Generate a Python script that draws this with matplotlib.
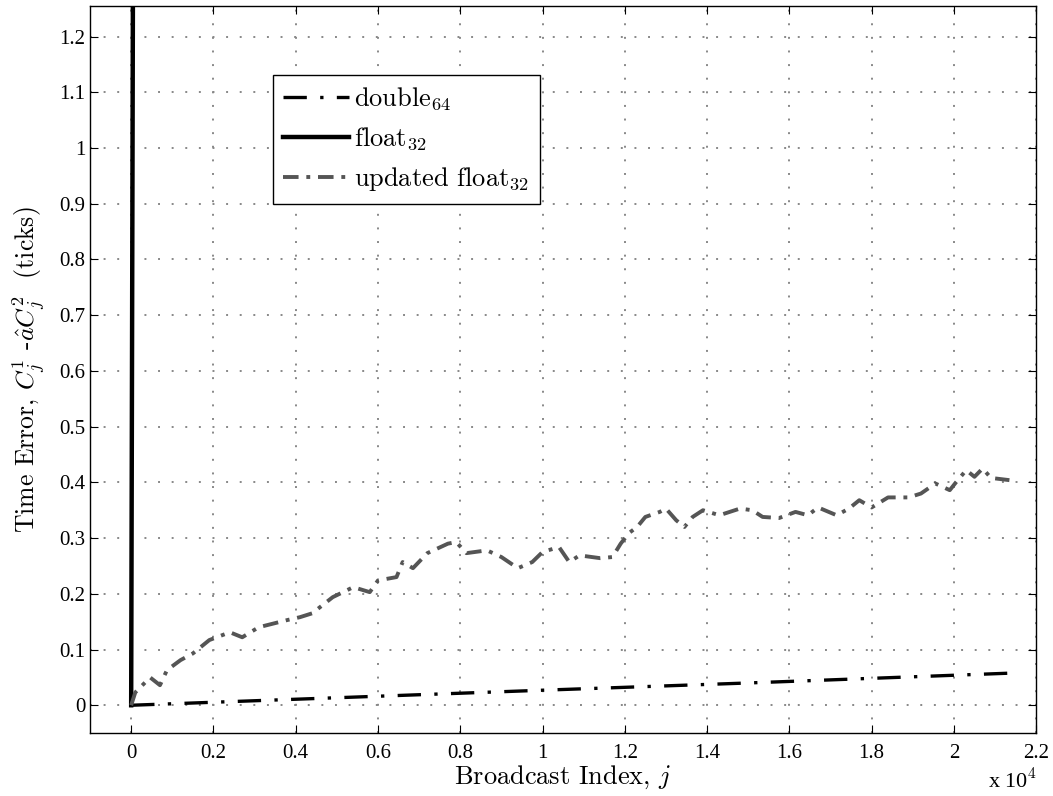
import matplotlib
matplotlib.use("Agg")
import matplotlib.pyplot as plt
from matplotlib.ticker import FuncFormatter, MultipleLocator

plt.rcParams['font.family'] = ['Liberation Serif', 'DejaVu Serif']
plt.rcParams['mathtext.fontset'] = 'cm'
plt.rcParams['axes.unicode_minus'] = False
cm_font = ['cmr10', 'DejaVu Serif']

# broadcast index j and time error (ticks)
j_double = [0, 5000, 10000, 15000, 21500]
err_double = [0.0, 0.0135, 0.027, 0.040, 0.058]

j_float = [0, 20, 40, 60, 80]
err_float = [0.0, 0.6, 1.2, 1.8, 2.4]

j_updated = [0, 100, 460, 700, 870, 1200, 1500, 1900, 2400, 2700, 3100, 3800,
             4100, 4400, 4900, 5400, 5800, 6000, 6450, 6600, 6850, 7200, 7700,
             7900, 8150, 8650, 9000, 9400, 9750, 10000, 10400, 10650, 10900,
             11400, 11700, 11900, 12100, 12300, 12500, 12850, 13000, 13250,
             13450, 13650, 13900, 14300, 14800, 15100, 15350, 15750, 16150,
             16450, 16700, 17150, 17450, 17700, 18000, 18400, 18900, 19200,
             19550, 19900, 20050, 20300, 20500, 20700, 20900, 21350]
err_updated = [0.0, 0.023, 0.050, 0.036, 0.063, 0.081, 0.093, 0.117, 0.131,
               0.122, 0.140, 0.153, 0.158, 0.165, 0.194, 0.212, 0.203, 0.224,
               0.230, 0.257, 0.246, 0.273, 0.290, 0.293, 0.273, 0.278, 0.266,
               0.246, 0.257, 0.275, 0.284, 0.257, 0.269, 0.264, 0.266, 0.290,
               0.309, 0.320, 0.338, 0.347, 0.353, 0.332, 0.320, 0.338, 0.350,
               0.341, 0.353, 0.350, 0.338, 0.336, 0.347, 0.341, 0.355, 0.341,
               0.353, 0.368, 0.355, 0.373, 0.373, 0.380, 0.398, 0.386, 0.400,
               0.422, 0.410, 0.425, 0.408, 0.404]

fig = plt.figure(figsize=(10.53, 7.96), dpi=100)
ax = fig.add_axes([0.0855, 0.079, 0.8985, 0.9135])

ax.plot(j_double, err_double, color='black', linewidth=2.4,
        dashes=(7, 4, 1, 4), label='double$_{64}$')
ax.plot(j_float, err_float, color='black', linewidth=3.2, label='float$_{32}$')
ax.plot(j_updated, err_updated, color='#555555', linewidth=2.8,
        dashes=(4, 2, 1, 2), label='updated float$_{32}$')

ax.set_xlim(-1000, 22000)
ax.set_ylim(-0.05, 1.255)
ax.xaxis.set_major_locator(MultipleLocator(2000))
ax.yaxis.set_major_locator(MultipleLocator(0.1))
ax.xaxis.set_major_formatter(FuncFormatter(lambda v, p: f"{v / 1e4:g}"))
ax.yaxis.set_major_formatter(FuncFormatter(lambda v, p: f"{v:g}"))

ax.grid(True, linestyle=(0, (1, 6)), color='#888888', linewidth=1.4)
ax.tick_params(direction='in', top=True, right=True, labelsize=15, length=6)
ax.tick_params(axis='x', pad=8)
for s in ax.spines.values():
    s.set_linewidth(1.0)

ax.set_xlabel('Broadcast Index, $j$', fontsize=19, family=cm_font, labelpad=0)
ax.set_ylabel(r'Time Error, $C^1_j$ -$\hat{a}C^2_j$  (ticks)', fontsize=18.5,
              family=cm_font, labelpad=8)
ax.text(0.949, -0.083, r'x 10$^4$', transform=ax.transAxes, fontsize=16,
        ha='left', va='bottom')

leg = ax.legend(loc='upper left', bbox_to_anchor=(0.193, 0.905),
                prop={'family': cm_font, 'size': 19}, borderaxespad=0,
                frameon=True, fancybox=False, edgecolor='black', framealpha=1,
                handlelength=2.5, handletextpad=0.2, borderpad=0.4,
                labelspacing=0.5)
leg.get_frame().set_linewidth(1.0)

fig.savefig('out.png', dpi=100)
